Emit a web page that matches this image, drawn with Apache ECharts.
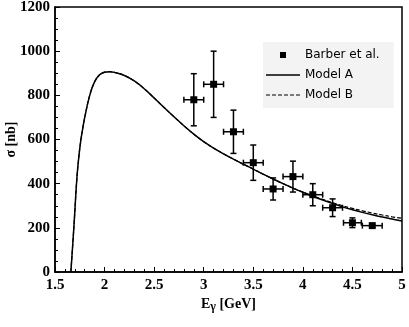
<!DOCTYPE html>
<html>
<head>
<meta charset="utf-8">
<script src="https://cdn.jsdelivr.net/npm/echarts@6/dist/echarts.min.js"></script>
<style>
html, body { margin: 0; padding: 0; background: #fff; }
#chart { width: 409px; height: 327px; }
</style>
</head>
<body>
<div id="chart"></div>
<script>
// Barber et al. data points
const barberE = [2.9, 3.1, 3.3, 3.5, 3.7, 3.9, 4.1, 4.3, 4.5, 4.7]
const barberSigma = [780, 850, 635, 495, 376, 432, 350, 291, 223, 210]
const barberErr = [118, 150, 98, 80, 50, 70, 50, 40, 22, 5]
const barberEErr = [0.1, 0.1, 0.1, 0.1, 0.1, 0.1, 0.1, 0.1, 0.09, 0.1]

// model curves
const modelE = [1.66, 1.69, 1.72, 1.74, 1.76, 1.78, 1.8, 1.85, 1.9, 1.95, 2.0, 2.05, 2.1, 2.2, 2.3, 2.4, 2.5, 2.6, 2.7, 2.8, 2.9, 3.0,
	3.1, 3.2, 3.3, 3.4, 3.5, 3.6, 3.7, 3.8, 3.9, 4.0, 4.1, 4.2, 4.3, 4.4, 4.5, 4.6, 4.7, 4.8, 4.9, 5.0]
const modelA = [0, 200, 420, 520, 595, 650, 700, 800, 862, 893, 905, 907, 904, 890, 865, 830, 788, 745, 703, 662, 624, 590,
	561, 535, 511, 488, 466, 443, 421, 400, 380, 361, 343, 326, 310, 295, 282, 270, 259, 249, 240, 231]
const modelB = [0, 200, 420, 520, 595, 650, 700, 800, 862, 893, 905, 907, 904, 890, 865, 830, 788, 745, 703, 662, 624, 590,
	561, 535, 511, 488, 466, 443, 421, 400, 380, 362, 345, 329, 314, 300, 288, 277, 267, 258, 250, 243]

const xTicks = ['1.5', '2', '2.5', '3', '3.5', '4', '4.5', '5']
const yTicks = ['0', '200', '400', '600', '800', '1000', '1200']

const chart = echarts.init(document.getElementById('chart'))

const serif = 'Liberation Serif'
const tickFont = { fontFamily: serif, fontWeight: 'bold', fontSize: 15, color: '#000' }

// legend icons: padded so they keep a 34x14 box
const squareIcon = 'path://M0 0M34 14M14 4h6v6h-6z'
const solidIcon = 'path://M0 0M34 14M0 6.25h34v1.5h-34z'
let dashPath = 'path://M0 0M34 14'
for (let x = 0; x < 34; x += 6) dashPath += 'M' + x + ' 6.4h' + Math.min(4, 34 - x) + 'v1.2h-' + Math.min(4, 34 - x) + 'z'

chart.setOption({
	animation: false,
	grid: {
		left: 55, right: 7, top: 7, bottom: 55,
		outerBoundsMode: 'none',
		show: true, borderColor: '#000', borderWidth: 1.5, backgroundColor: 'transparent',
	},
	legend: {
		orient: 'vertical',
		left: 263, top: 42,
		padding: [6, 14, 6, 3],
		itemGap: 6,
		itemWidth: 34, itemHeight: 14,
		backgroundColor: '#f3f3f3',
		textStyle: { fontFamily: 'DejaVu Sans', fontSize: 12, color: '#000' },
		data: [
			{ name: 'Barber et al.', icon: squareIcon },
			{ name: 'Model A', icon: solidIcon },
			{ name: 'Model B', icon: dashPath },
		],
	},
	xAxis: {
		type: 'value',
		min: 1.5, max: 5, interval: 0.5,
		name: 'E{sub|γ} [GeV]',
		nameLocation: 'middle',
		nameGap: 24,
		nameMoveOverlap: false,
		nameTextStyle: {
			fontFamily: serif, fontWeight: 'bold', fontSize: 14, color: '#000',
			rich: { sub: { fontFamily: serif, fontWeight: 'bold', fontSize: 12, padding: [5, 0, 0, 0] } },
		},
		axisLine: { lineStyle: { color: '#000', width: 1.5 } },
		axisTick: { inside: true, length: 5, lineStyle: { color: '#000', width: 1 } },
		minorTick: { show: true, splitNumber: 5, length: 3, lineStyle: { color: '#000', width: 1 } },
		splitLine: { show: false },
		axisLabel: {
			...tickFont, margin: 6,
			formatter: v => xTicks.find(t => Math.abs(parseFloat(t) - v) < 1e-6) || '',
		},
	},
	yAxis: {
		type: 'value',
		min: 0, max: 1200, interval: 200,
		name: 'σ [nb]',
		nameLocation: 'middle',
		nameGap: 37,
		nameMoveOverlap: false,
		nameTextStyle: { fontFamily: serif, fontWeight: 'bold', fontSize: 14, color: '#000' },
		axisLine: { show: true, lineStyle: { color: '#000', width: 1.5 } },
		axisTick: { inside: true, length: 5, lineStyle: { color: '#000', width: 1 } },
		minorTick: { show: true, splitNumber: 4, length: 3, lineStyle: { color: '#000', width: 1 } },
		splitLine: { show: false },
		axisLabel: {
			...tickFont, margin: 5,
			formatter: v => yTicks.find(t => Math.abs(parseFloat(t) - v) < 1e-6) || '',
		},
	},
	series: [
		{
			name: 'Model B',
			type: 'line',
			data: modelE.map((e, i) => [e, modelB[i]]),
			showSymbol: false, symbol: 'none',
			smooth: 0.4,
			color: '#000',
			lineStyle: { color: '#000', width: 1.2, type: [4, 2] },
			z: 2,
		},
		{
			name: 'Model A',
			type: 'line',
			data: modelE.map((e, i) => [e, modelA[i]]),
			showSymbol: false, symbol: 'none',
			smooth: 0.4,
			color: '#000',
			lineStyle: { color: '#000', width: 1.5 },
			z: 3,
		},
		{
			name: 'Barber et al.',
			type: 'custom',
			color: '#000',
			data: barberE.map((e, i) => [e, barberSigma[i], barberErr[i], barberEErr[i]]),
			encode: { x: 0, y: 1 },
			renderItem: (params, api) => {
				const x = api.value(0), y = api.value(1), ey = api.value(2), ex = api.value(3)
				const c = api.coord([x, y])
				const top = api.coord([x, y + ey])
				const bot = api.coord([x, y - ey])
				const l = api.coord([x - ex, y])
				const r = api.coord([x + ex, y])
				const cap = 3
				const st = { stroke: '#000', lineWidth: 1.5 }
				const line = (x1, y1, x2, y2) => ({ type: 'line', shape: { x1, y1, x2, y2 }, style: st })
				return {
					type: 'group',
					children: [
						line(top[0], top[1], bot[0], bot[1]),
						line(top[0] - cap, top[1], top[0] + cap, top[1]),
						line(bot[0] - cap, bot[1], bot[0] + cap, bot[1]),
						line(l[0], l[1], r[0], r[1]),
						line(l[0], l[1] - cap, l[0], l[1] + cap),
						line(r[0], r[1] - cap, r[0], r[1] + cap),
						{ type: 'rect', shape: { x: c[0] - 3.5, y: c[1] - 3.5, width: 7, height: 7 }, style: { fill: '#000' } },
					],
				}
			},
			z: 4,
		},
	],
})
</script>
</body>
</html>
